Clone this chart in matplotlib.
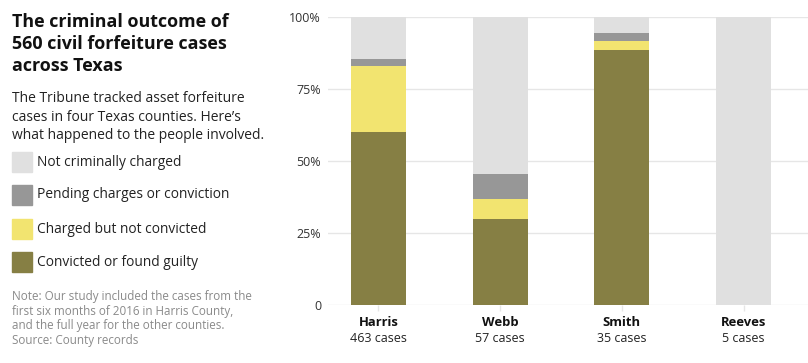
import matplotlib.pyplot as plt
import matplotlib.transforms as mtransforms
import numpy as np

plt.rcParams['font.family'] = ['Open Sans', 'DejaVu Sans']

counties = ['Harris', 'Webb', 'Smith', 'Reeves']
case_counts = [463, 57, 35, 5]
# shares in percent, bottom to top
convicted = [60.2, 29.8, 88.6, 0.0]
charged_not_convicted = [22.9, 7.0, 2.9, 0.0]
pending = [2.3, 8.8, 2.8, 0.0]
not_charged = [14.6, 54.4, 5.7, 100.0]

series = [
    ('Convicted or found guilty', convicted, '#867f44'),
    ('Charged but not convicted', charged_not_convicted, '#f2e470'),
    ('Pending charges or conviction', pending, '#979797'),
    ('Not criminally charged', not_charged, '#e0e0e0'),
]

W, H = 808, 363
fig = plt.figure(figsize=(W / 100, H / 100), dpi=100)

ax = fig.add_axes([328 / W, 1 - 305 / H, 480 / W, 288 / H])
x = np.arange(len(counties))
bottom = np.zeros(len(counties))
for name, vals, col in series:
    ax.bar(x, vals, bottom=bottom, width=0.452, color=col, zorder=2)
    bottom += np.array(vals)

ax.set_xlim(-0.415, 3.53)
ax.set_ylim(0, 100)
ax.set_yticks([0, 25, 50, 75, 100])
ax.set_yticklabels(['0', '25%', '50%', '75%', '100%'], fontsize=9, color='#333333')
ax.yaxis.grid(True, color='#e6e6e6', linewidth=1, zorder=0)
ax.tick_params(axis='y', length=0, pad=5)
ax.set_xticks(x)
ax.set_xticklabels([])
ax.tick_params(axis='x', length=4, color='#e6e6e6', width=1)
for s in ax.spines.values():
    s.set_visible(False)

trans = mtransforms.blended_transform_factory(ax.transData, fig.transFigure)
for i, (c, n) in enumerate(zip(counties, case_counts)):
    ax.text(i, 1 - 323 / H, c, transform=trans, ha='center', va='center',
            fontsize=9.4, fontweight='bold', color='#111111')
    ax.text(i, 1 - 339 / H, f'{n} cases', transform=trans, ha='center', va='center',
            fontsize=9, color='#222222')

# left panel text
fig.text(12 / W, 1 - 13 / H, 'The criminal outcome of\n560 civil forfeiture cases\nacross Texas',
         ha='left', va='top', fontsize=12.9, fontweight='bold', color='#111111', linespacing=1.27)
fig.text(12 / W, 1 - 91 / H,
         'The Tribune tracked asset forfeiture\ncases in four Texas counties. Here\u2019s\nwhat happened to the people involved.',
         ha='left', va='top', fontsize=10, color='#222222', linespacing=1.33)

legend_y = [162, 195, 229, 262]
for (name, vals, col), yy in zip(series[::-1], legend_y):
    fig.patches.append(plt.Rectangle((12 / W, 1 - (yy + 10) / H), 20 / W, 20 / H,
                                     transform=fig.transFigure, color=col, figure=fig))
    fig.text(37 / W, 1 - yy / H, name, ha='left', va='center', fontsize=9.9, color='#222222')

fig.text(12 / W, 1 - 290 / H,
         'Note: Our study included the cases from the\nfirst six months of 2016 in Harris County,\nand the full year for the other counties.\nSource: County records',
         ha='left', va='top', fontsize=8.4, color='#8a8a8a', linespacing=1.16)

fig.savefig('out.png', dpi=100)
